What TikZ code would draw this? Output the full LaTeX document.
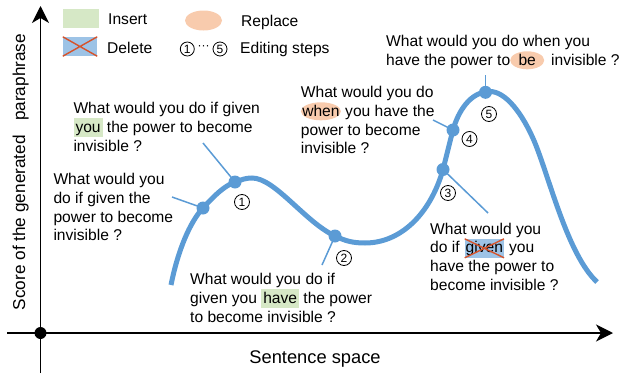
\documentclass[tikz,border=0pt]{standalone}
\usepackage{fontspec}
\setmainfont{Liberation Sans}
\usetikzlibrary{arrows.meta}
\definecolor{curveblue}{RGB}{91,155,213}
\definecolor{insgreen}{RGB}{214,232,198}
\definecolor{delblue}{RGB}{157,195,230}
\definecolor{delred}{RGB}{214,84,44}
\definecolor{reporange}{RGB}{248,203,173}
\newcommand\hlins[1]{\tikz[baseline=(X.base)]\node[fill=insgreen,inner xsep=2pt,inner ysep=2.5pt,text height=11.5pt,text depth=2.5pt,outer sep=0pt](X){#1};}
\newcommand\hldel[1]{\tikz[baseline=(X.base)]{\node[fill=delblue,inner xsep=1pt,inner ysep=2.5pt,text height=11.5pt,text depth=2.5pt,outer sep=0pt](X){#1};\draw[delred,line width=1.4pt](X.north west)--(X.south east)(X.north east)--(X.south west);}}
\newcommand\hlrep[3]{\tikz[baseline=0pt]{\fill[reporange](0pt,5pt) ellipse (#1 and #2);\node[anchor=base,inner sep=0pt] at (0pt,0pt){#3};}}
\begin{document}
\begin{tikzpicture}[x=1pt,y=-1pt,
  font=\fontsize{15.6}{18.8}\selectfont,
  txt/.style={anchor=north west,inner sep=0pt,align=left},
  lbl/.style={anchor=base west,inner sep=0pt},
  conn/.style={curveblue,line width=1.5pt},
  dotn/.style={circle,fill=curveblue,inner sep=0pt,minimum size=13pt},
  stepn/.style={circle,draw,line width=0.8pt,inner sep=0pt,minimum size=15pt,font=\fontsize{12}{12}\selectfont},
  axisline/.style={line width=1.2pt},
  tip/.style={-{Stealth[length=17pt,width=17pt,inset=5pt]}}]
\useasboundingbox (0,0) rectangle (624,375);

% axes
\coordinate (xs) at (7,333);
\coordinate (xe) at (613,333);
\coordinate (ys) at (40.5,373);
\coordinate (ye) at (40.5,6);
\draw[axisline,tip] (xs) -- (xe);
\draw[axisline,tip] (ys) -- (ye);
\node[circle,fill=black,inner sep=0pt,minimum size=12pt] (origin) at (40.5,333) {};
\node[anchor=base,inner sep=0pt,rotate=90,font=\fontsize{17.2}{20}\selectfont] (ylab) at (25,172) {Score of the generated \ \ paraphrase};
\node[anchor=base,inner sep=0pt,font=\fontsize{18.3}{20}\selectfont] (xlab) at (315,363) {Sentence space};

% legend
\node[fill=insgreen,inner sep=0pt,minimum width=36pt,minimum height=19pt] (legins) at (81,18.5) {};
\node[lbl] (leginst) at (108,24) {Insert};
\node[fill=delblue,inner sep=0pt,minimum width=34pt,minimum height=19pt] (legdel) at (80,46.5) {};
\draw[delred,line width=1.4pt] (legdel.north west) -- (legdel.south east) (legdel.north east) -- (legdel.south west);
\node[lbl] (legdelt) at (107,53.5) {Delete};
\fill[reporange] (203.5,20.5) ellipse (18.5 and 10);
\node[lbl] (legrept) at (241,26.5) {Replace};
\node[stepn,minimum size=14pt] (legs1) at (187.3,49) {1};
\node[stepn,minimum size=14pt] (legs5) at (220,49) {5};
\node[inner sep=0pt,font=\fontsize{12}{12}\selectfont] (legdots) at (203.6,48) {···};
\node[lbl] (legstept) at (240,53.5) {Editing steps};

% curve
\draw[curveblue,line width=5pt]
 (171,285) .. controls (178,250) and (190,222) .. (203,208)
 .. controls (214,196) and (224,186) .. (235,182)
 .. controls (242,179.5) and (246,178) .. (252,178)
 .. controls (275,178) and (305,222) .. (335,236)
 .. controls (345,240.7) and (352,243) .. (365,243)
 .. controls (400,243) and (430,215) .. (443,169.5)
 .. controls (446,158) and (449.5,143) .. (453,130)
 .. controls (458,112) and (470,91.5) .. (490,91.5)
 .. controls (505,91.5) and (522,112) .. (535,143)
 .. controls (550,180) and (568,255) .. (597,282);

% dots on curve
\node[dotn] (d0) at (203,208) {};
\node[dotn] (d1) at (235,182) {};
\node[dotn] (d2) at (335,236) {};
\node[dotn] (d3) at (443,169.5) {};
\node[dotn] (d4) at (453,130) {};
\node[dotn] (d5) at (485.5,92.3) {};

% connector free ends
\coordinate (c0) at (172,197);
\coordinate (c1) at (203,143);
\coordinate (c2) at (322,265);
\coordinate (c3) at (488,213);
\coordinate (c4) at (433,120);
\coordinate (c5) at (485.5,75);
\draw[conn] (d0.center) -- (c0);
\draw[conn] (d1.center) -- (c1);
\draw[conn] (d2.center) -- (c2);
\draw[conn] (d3.center) -- (c3);
\draw[conn] (d4.center) -- (c4);
\draw[conn] (d5.center) -- (c5);

% step numbers
\node[stepn] (s1) at (242,202) {1};
\node[stepn] (s2) at (344,258) {2};
\node[stepn] (s3) at (448,193) {3};
\node[stepn] (s4) at (469.5,139) {4};
\node[stepn] (s5) at (489,114) {5};

% sentences
\node[txt] (t0) at (53.3,173) {What would you\\do if given the\\power to become\\invisible ?};
\node[txt] (t1) at (73.3,102) {What would you do if given\\\hlins{you} the power to become\\invisible ?};
\node[txt] (t2) at (190,273) {What would you do if\\given you \hlins{have} the power\\to become invisible ?};
\node[txt] (t3) at (430,222.5) {What would you\\do if \hldel{given} you\\have the power to\\become invisible ?};
\node[txt] (t4) at (300.7,86) {What would you do\\\hlrep{20pt}{9pt}{when} you have the\\power to become\\invisible ?};
\node[txt] (t5) at (386,35) {What would you do when you\\have the power to\hlrep{17pt}{9pt}{be} \,invisible ?};
\end{tikzpicture}
\end{document}
